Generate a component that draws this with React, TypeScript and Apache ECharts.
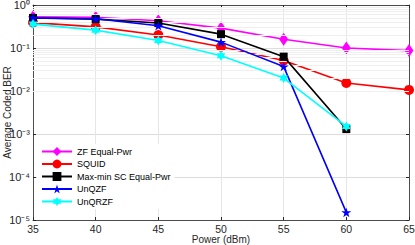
import React, { useEffect, useRef } from "react";
import * as echarts from "echarts";

const powers = [35, 40, 45, 50, 55, 60, 65];
const zfEqualPwr = [0.53, 0.52, 0.43, 0.29, 0.16, 0.1, 0.087];
const squid = [0.39, 0.31, 0.2, 0.107, 0.051, 0.0154, 0.0106];
const maxMinSC = [0.5, 0.47, 0.38, 0.21, 0.063, 0.0013];
const unQZF = [0.5, 0.48, 0.33, 0.137, 0.037, 1.5e-5];
const unQRZF = [0.36, 0.26, 0.15, 0.066, 0.02, 0.0015];
const decades = [1e-5, 1e-4, 1e-3, 1e-2, 1e-1];
const minorMultipliers = [2, 3, 4, 5, 6, 7, 8, 9];
const yAxisTitle = "Average Coded BER";
const superDigits: Record<string, string> = {
  "0": "\u2070", "1": "\u00b9", "2": "\u00b2", "3": "\u00b3", "4": "\u2074",
  "5": "\u2075", "6": "\u2076", "7": "\u2077", "8": "\u2078", "9": "\u2079", "-": "\u207b",
};

const STAR =
  "path://M100,0 L122.45,69.1 L195.1,69.1 L136.3,111.8 L158.8,180.9 L100,138.2 L41.2,180.9 L63.7,111.8 L4.9,69.1 L77.55,69.1 Z";
const HEXA =
  "path://M100,0 L128.87,50 L186.6,50 L157.7,100 L186.6,150 L128.87,150 L100,200 L71.13,150 L13.4,150 L42.3,100 L13.4,50 L71.13,50 Z";

const pair = (vals: number[]) => vals.map((v, i) => [powers[i], v]);

export default function App() {
  const ref = useRef<HTMLDivElement>(null);
  useEffect(() => {
    document.body.style.margin = "0";
    if (!ref.current) return;
    const chart = echarts.init(ref.current, undefined, { renderer: "svg" });
    const font = "Liberation Sans, Arial, sans-serif";
    const axisColor = "#262626";
    const minorLines: any[] = [];
    decades.forEach((d) => minorMultipliers.forEach((m) => minorLines.push({ yAxis: d * m })));
    const mk = (name: string, data: number[], color: string, symbol: string, size: any, z: number) => ({
      name,
      type: "line",
      data: pair(data),
      symbol,
      symbolSize: size,
      symbolKeepAspect: true,
      z,
      lineStyle: { color, width: 1.6 },
      itemStyle: { color, borderWidth: 0 },
    });
    chart.setOption({
      animation: false,
      textStyle: { fontFamily: font },
      grid: { left: 33, right: 6, top: 5, bottom: 25, containLabel: false, outerBoundsMode: "none" },
      graphic: [
        {
          type: "text",
          x: 7,
          y: 112.5,
          rotation: Math.PI / 2,
          style: {
            text: yAxisTitle,
            fontSize: 10,
            fontFamily: font,
            fill: axisColor,
            textAlign: "center",
            textVerticalAlign: "middle",
          },
        },
      ],
      legend: {
        orient: "vertical",
        left: 37,
        top: 144,
        itemWidth: 30,
        itemHeight: 11,
        itemGap: 3.5,
        backgroundColor: "#ffffff",
        padding: [3, 4, 3, 4],
        textStyle: { fontSize: 9, color: "#000", fontFamily: font },
        data: ["ZF Equal-Pwr", "SQUID", "Max-min SC Equal-Pwr", "UnQZF", "UnQRZF"],
      },
      xAxis: [
        {
          type: "value",
          min: 35,
          max: 65,
          interval: 5,
          name: "Power (dBm)",
          nameLocation: "middle",
          nameGap: 14,
          nameMoveOverlap: false,
          nameTextStyle: { fontSize: 10, color: axisColor },
          axisLine: { show: true, lineStyle: { color: axisColor, width: 0.8 } },
          axisTick: { show: true, inside: true, length: 3, lineStyle: { color: axisColor } },
          axisLabel: { fontSize: 10.5, color: axisColor, margin: 3 },
          splitLine: { show: true, lineStyle: { color: "#e6e6e6", width: 1 } },
        },
        {
          type: "value",
          position: "top",
          min: 35,
          max: 65,
          interval: 5,
          axisLine: { show: true, lineStyle: { color: axisColor, width: 0.8 } },
          axisTick: { show: true, inside: true, length: 3, lineStyle: { color: axisColor } },
          axisLabel: { show: false },
          splitLine: { show: false },
        },
      ],
      yAxis: [
        {
          type: "log",
          logBase: 10,
          min: 1e-5,
          max: 1,
          axisLine: { show: true, lineStyle: { color: axisColor, width: 0.8 } },
          axisTick: { show: true, inside: true, length: 3, lineStyle: { color: axisColor } },
          axisLabel: {
            margin: 3,
            color: axisColor,
            fontSize: 11,
            fontFamily: font,
            formatter: (v: number) =>
              "10" + String(Math.round(Math.log10(v))).split("").map((c) => superDigits[c] || c).join(""),
          },
          splitLine: { show: true, lineStyle: { color: "#dcdcdc", width: 1 } },
        },
        {
          type: "log",
          logBase: 10,
          min: 1e-5,
          max: 1,
          position: "right",
          axisLine: { show: true, lineStyle: { color: axisColor, width: 0.8 } },
          axisTick: { show: true, inside: true, length: 3, lineStyle: { color: axisColor } },
          axisLabel: { show: false },
          splitLine: { show: false },
        },
      ],
      series: [
        {
          name: "minor",
          type: "line",
          data: [],
          z: 1,
          silent: true,
          markLine: {
            silent: true,
            symbol: "none",
            label: { show: false },
            lineStyle: { color: "#efefef", width: 1, type: "solid" },
            data: minorLines,
          },
        },
        mk("ZF Equal-Pwr", zfEqualPwr, "#ff00ff", "diamond", [9, 13], 3),
        mk("SQUID", squid, "#ff0000", "circle", 10, 4),
        mk("Max-min SC Equal-Pwr", maxMinSC, "#000000", "rect", 8, 5),
        mk("UnQZF", unQZF, "#0000ff", STAR, 10, 6),
        mk("UnQRZF", unQRZF, "#00ffff", HEXA, 10, 7),
      ],
    });
    return () => chart.dispose();
  }, []);
  return <div ref={ref} style={{ width: 415, height: 245 }} />;
}
